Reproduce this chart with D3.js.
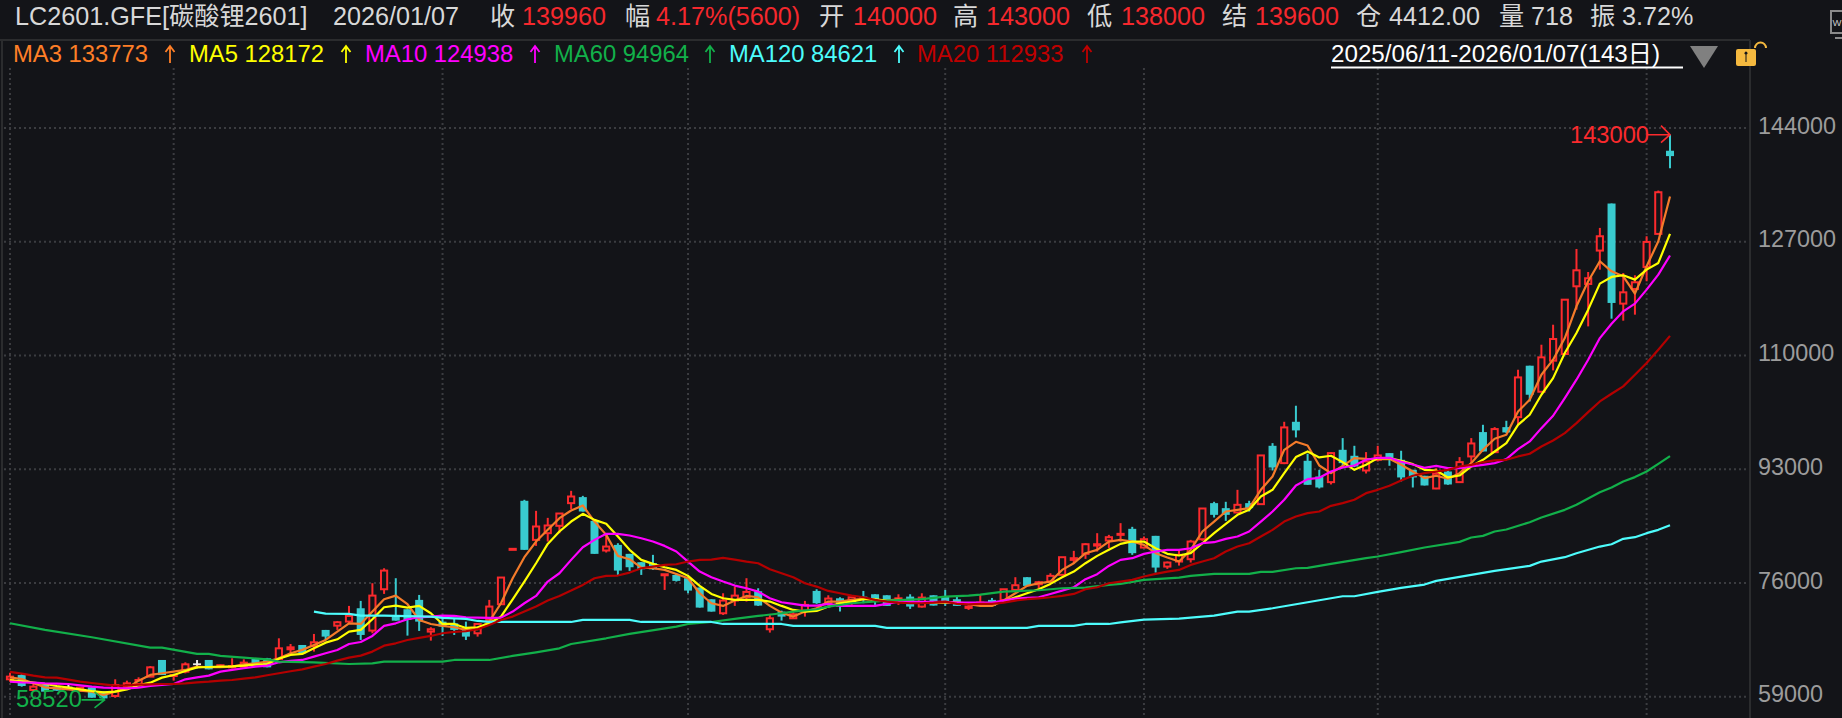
<!DOCTYPE html>
<html><head><meta charset="utf-8">
<script src="https://cdn.jsdelivr.net/npm/d3@7/dist/d3.min.js"></script>
<style>
html,body{margin:0;padding:0;background:#131418;overflow:hidden}
svg{display:block}
text{font-family:"Liberation Sans","Noto Sans CJK SC",sans-serif}
</style></head><body><svg id="c" width="1842" height="718"></svg>
<script>
const opens=[61600,62240,60000,60750,60500,60500,59900,60400,59750,59100,60500,60900,62000,64490,62100,62740,63990,64490,63500,63390,63490,64740,64740,64640,66090,66730,66580,68980,69620,70230,72220,68880,75060,70970,72070,73470,68730,70220,69970,69230,68480,70470,72820,81000,88280,82440,83440,84540,87930,88830,85280,80850,81690,80350,79100,78950,77200,77200,76710,75310,73560,71470,73370,73860,74760,69080,71720,70720,71870,74810,72970,73710,73220,73960,74310,74160,73220,73960,72470,74160,73960,73570,72270,72870,73470,73470,74960,76860,75810,76210,77210,79450,80350,81590,82340,83190,84090,81290,83040,78450,79200,79550,82540,87930,87180,86530,87930,87780,96500,93910,100090,94260,91920,91070,95900,95010,92810,94410,95410,94410,92910,92020,90120,92660,91070,94910,98550,95550,99290,100790,108470,104580,109220,110220,120340,120690,125680,132710,117750,119940,123230,128170,140600];
const highs=[62590,62400,60900,60800,60600,60750,60350,60400,59800,61600,61400,61900,63590,64490,62240,64140,64490,64490,63800,64740,64590,64740,64800,67730,66880,66730,68380,68980,70320,72570,73320,75960,78200,76710,72070,74210,69380,70720,70720,70220,69880,73470,76810,81100,88430,86780,85730,86380,89770,89020,85280,83440,81940,80350,79100,80200,77300,77450,76960,75310,73560,74460,75460,76710,75210,71370,71870,71720,73320,75060,74160,73860,73860,74810,74310,74160,74310,74310,74460,74160,74960,73960,72670,74210,73760,75060,76860,76860,76310,77450,79850,80800,81940,83440,83190,84940,84390,82940,83040,79200,80940,82440,87130,88130,88130,89920,88280,95060,96900,100090,102490,95310,92910,95560,97650,96500,95560,96500,95410,95760,92910,92020,93160,92910,94810,97650,99640,99290,100240,107870,108470,111610,114600,118340,125920,122480,129070,132710,122330,121990,127820,134650,143000];
const lows=[61250,60500,60000,59700,59900,60250,59900,58850,58520,58850,60250,60750,62000,62240,61400,62490,63240,63090,63400,63240,63490,63990,63390,64490,65490,65490,65740,67480,68980,69980,67480,68480,74360,70370,68130,68830,67380,68080,68230,67480,67980,70220,72820,81000,80950,81540,82190,83440,87030,86680,80350,80550,77200,77800,77200,77950,74960,76210,74460,72320,71720,71220,72570,73220,72570,68580,70370,70720,70970,72870,72720,71720,72720,72970,72720,72570,72720,72120,72320,72620,72570,72570,71970,72720,72570,73370,74860,75560,75210,75960,77210,78950,79600,80700,81200,82190,80200,81290,77550,78100,78600,79050,82290,85780,85280,86430,86680,87780,92810,93760,97750,90670,90120,90720,93160,93310,92360,94160,93510,91170,90270,90570,90020,90670,91070,93910,95650,95550,98400,99640,103130,104580,107770,110220,116850,114350,122830,115500,115200,116100,121090,128170,138000];
const closes=[62000,60600,60500,59750,59900,60500,60350,58850,58750,60750,61000,61500,63390,62240,62240,63840,63990,63090,63700,63590,64090,63990,63390,66230,66380,65490,67130,67980,70130,71070,68230,74110,77850,70370,70470,70220,69080,69480,68980,67980,69870,72470,76810,81100,80950,84440,84590,86380,88920,86680,80350,81440,77850,78350,78050,78050,77300,76310,74860,72320,71720,73370,74110,74660,72620,70720,70970,71320,72720,72970,73670,72470,73860,73860,73220,72570,73710,72470,73810,72620,73220,72570,72470,73070,72570,75060,75660,75560,76110,77060,79850,79700,81790,81790,82840,83340,80450,82540,78300,79050,80200,82190,87130,86180,86180,87680,87180,95060,93260,99250,98800,90670,90270,95410,93910,93410,94160,95060,94410,91770,91770,90570,92320,90720,94060,96850,95650,99000,98500,106720,104130,109720,112460,118340,122730,121540,127820,117850,119440,120940,126970,134400,139800];

const ma3=[61900,61650,61000,60400,60250,60100,59900,59750,59250,59750,60250,61400,62250,62500,62750,63000,63500,63400,63400,63500,63850,64000,64250,64750,65500,66000,66730,67480,68730,69970,69870,71720,73560,74110,72820,70470,69870,69580,69380,68980,69080,70220,72970,76710,79850,82190,83940,85680,86830,87580,85180,83190,80050,79550,78300,78200,77950,77350,76710,74460,72970,72570,73370,74060,73860,72570,71570,70970,71720,72220,73220,73220,73470,73610,73470,73370,73570,73220,73070,73070,73070,73070,72820,72570,72570,73370,74460,75560,75960,76210,77950,78950,80450,80950,82190,82440,82190,81690,80450,79800,79200,80940,83690,85180,86680,86930,87180,89920,91920,95900,97100,96550,93560,92410,93510,94660,94560,94510,94560,93660,92660,91670,92020,91570,92410,93910,95900,97550,98150,101640,103380,107120,109370,112610,117350,121090,124080,122580,121840,119240,123330,127070,133770];
const ma5=[61500,61300,61100,60900,60600,60350,60100,59850,59650,59750,60100,60700,61100,61850,62250,62840,63390,63440,63490,63540,63640,63790,63890,64690,65240,65390,66230,67080,67580,68730,68980,70570,72370,72620,72320,72570,71470,69870,69870,69280,69380,69970,70970,73560,76210,78950,81840,83690,85180,86330,85430,84840,82940,80950,79450,78850,78350,77950,77060,75560,74360,73710,73470,73470,73470,73220,72570,71970,71720,71820,72470,72970,73220,73570,73570,73370,73220,73120,73120,73120,73120,73070,72970,72870,72870,73220,73860,74460,75060,75860,76860,77700,78950,80050,80950,81840,82190,82190,81190,80350,80100,80450,81940,83440,84830,86180,86930,88920,89920,92410,94810,95660,94760,95010,94060,92910,93660,94660,94660,94260,93760,92910,92810,91770,92060,93410,94410,95650,96900,99640,101140,104130,106620,110370,113360,116850,120740,121740,121990,121340,122830,123830,128170];
const ma10=[61250,61150,61100,61000,60950,60900,60700,60500,60350,60300,60250,60350,60600,60750,60900,61600,61900,62150,62750,63000,63250,63500,63640,64140,64350,64490,64990,65490,65990,66880,67180,68080,69580,69970,70570,70870,70970,71120,71070,70870,70820,70770,70820,71720,72970,74060,76210,77450,79450,81340,82440,83340,83340,83090,82690,82190,81540,80700,79200,77700,76860,76210,75610,75210,74710,73710,73120,72870,72620,72620,72870,72570,72570,72570,72570,72870,73220,73170,73170,73170,73170,73070,73070,73070,73070,73370,73660,73760,73860,74360,74860,75360,76560,77310,78550,79450,79700,80350,80700,80940,80940,81190,81940,82090,82590,82940,83690,85180,86680,88430,90570,91520,91720,92660,93260,93560,94410,94710,94710,94110,93710,93210,93510,93160,93160,93410,93660,93910,94510,96000,97150,99140,100990,103630,106380,109370,112600,114750,116600,117750,119840,122080,124940];
const ma20=[62700,62450,62150,61900,61850,61550,61250,61050,60850,60650,60700,60800,60850,60900,60900,61000,61150,61250,61400,61500,61700,61900,62200,62500,62800,63090,63490,63890,64390,64840,65140,65740,66630,66980,67480,67780,68080,68480,68680,68780,69080,69730,70470,70970,71720,72470,73370,74060,74860,75710,76710,77060,77110,77550,78200,78450,78700,78800,79200,79450,79500,79750,79500,79200,78950,78050,77450,76860,75960,75460,74810,74460,74110,73860,73470,73220,73070,72970,72970,73070,73220,72870,72820,72870,72870,73070,73370,73570,73710,73860,74060,74360,75060,75360,75960,76210,76460,76960,77350,77700,77950,78700,79200,79700,80700,81440,81940,82940,83940,85180,85930,86430,86680,87530,87930,88430,89420,89920,90520,91320,92020,92410,92660,92910,93410,93660,94060,94310,94410,94910,95310,96400,97300,98400,99890,101540,103130,104280,105380,107120,108870,110860,112930];
const ma60Idx=[0,3,7,12,13,16,17,18,20,22,23,26,29,31,32,37,38,41,43,45,47,48,51,53,57,58,60,62,64,66,67,69,70,72,75,78,80,82,83,85,88,90,92,94,95,97,100,101,103,106,107,108,110,111,113,116,117,119,121,124,125,126,127,128,130,131,133,134,136,137,138,139,140,141,142];
const ma60Val=[69980,68980,67880,66340,66340,65390,65390,65090,64840,64590,64240,64140,63890,63990,64240,64240,64490,64490,65090,65630,66230,66880,67730,68380,69480,69870,70170,70620,71070,71470,71720,72070,72470,72970,73370,73570,73960,74110,74260,74710,74910,75210,75310,75710,75860,76460,76810,77060,77350,77350,77650,77650,78200,78250,78850,79700,79950,80600,81300,82140,82790,83040,83690,83990,85080,85780,86930,87680,89570,90270,91170,91820,92660,93810,94960];
const ma120Idx=[26,27,29,30,32,36,37,39,40,41,48,49,53,54,60,61,66,67,74,75,87,88,91,92,94,95,97,100,101,103,105,106,108,110,112,114,115,117,119,121,122,127,130,131,133,134,136,137,138,139,140,141,142];
const ma120Val=[71720,71420,71370,71120,71120,70970,70770,70620,70320,70170,70170,70470,70470,70170,70170,69870,69870,69580,69580,69280,69280,69580,69580,69870,69870,70120,70520,70670,70820,71120,71720,71720,72220,72820,73420,74010,74010,74660,75260,75760,76310,77800,78550,79200,79850,80450,81440,81790,82590,82840,83440,83940,84620];
const priceTicks=[144000,127000,110000,93000,76000,59000];
const gridIdx=[0,14,37,58,80,97,117,140];
const headerItems=[["LC2601.GFE[碳酸锂2601]",15,"#d8d8d8"],["2026/01/07",333,"#d8d8d8"],["收",490,"#d8d8d8"],["139960",522,"#f5282d"],["幅",625,"#d8d8d8"],["4.17%(5600)",656,"#f5282d"],["开",819,"#d8d8d8"],["140000",853,"#f5282d"],["高",953,"#d8d8d8"],["143000",986,"#f5282d"],["低",1087,"#d8d8d8"],["138000",1121,"#f5282d"],["结",1222,"#d8d8d8"],["139600",1255,"#f5282d"],["仓",1356,"#d8d8d8"],["4412.00",1389,"#d8d8d8"],["量",1499,"#d8d8d8"],["718",1531,"#d8d8d8"],["振",1590,"#d8d8d8"],["3.72%",1622,"#d8d8d8"]];
const legendItems=[["MA3 133773",13,170,"#ff7f27"],["MA5 128172",189,346,"#ffff00"],["MA10 124938",365,535,"#ff00ff"],["MA60 94964",554,710,"#12b04a"],["MA120 84621",729,899,"#4dfcfc"],["MA20 112933",917,1087,"#c00000"]];
const rangeLabel="2025/06/11-2026/01/07(143日)";

const RED="#fb2a2d",TEAL="#39cbcf",BG="#131418",GRID="#3b3c40",LINE="#2b2c2e";
const x=d3.scaleLinear().domain([0,142]).range([10,1670]);
const y=d3.scaleLinear().domain([59000,144000]).range([696.7,128]);
const svg=d3.select("#c");
svg.append("rect").attr("width",1842).attr("height",718).attr("fill",BG);

// frame
svg.append("line").attr("x1",0).attr("x2",1750).attr("y1",40).attr("y2",40).attr("stroke",LINE).attr("stroke-width",2);
svg.append("line").attr("x1",2).attr("x2",2).attr("y1",40).attr("y2",718).attr("stroke",LINE).attr("stroke-width",2);
svg.append("line").attr("x1",1750).attr("x2",1750).attr("y1",40).attr("y2",718).attr("stroke",LINE).attr("stroke-width",2);

// grid
const grid=svg.append("g").attr("stroke",GRID).attr("stroke-width",2).attr("stroke-dasharray","2 3");
grid.selectAll(".h").data(priceTicks).join("line").attr("x1",4).attr("x2",1748).attr("y1",d=>y(d)).attr("y2",d=>y(d));
grid.selectAll(".v").data(gridIdx).join("line").attr("x1",d=>x(d)).attr("x2",d=>x(d)).attr("y1",68).attr("y2",718);

// axis
const ax=svg.append("g").attr("transform","translate(1751,0)").call(d3.axisRight(y).tickValues(priceTicks).tickSize(0).tickPadding(7).tickFormat(d3.format("d")));
ax.select(".domain").remove();
ax.selectAll("text").attr("fill","#9c9c9c").attr("font-size",23.4).attr("dy","0.22em").style("font-family",'"Liberation Sans",sans-serif');

// candles
const candles=d3.range(opens.length).map(i=>({i,o:opens[i],h:highs[i],l:lows[i],c:closes[i]}));
const col=d=>d.c>d.o?RED:d.c<d.o?TEAL:"#e8e8e8";
const cg=svg.append("g");
cg.selectAll(".w").data(candles).join("line").attr("x1",d=>x(d.i)).attr("x2",d=>x(d.i)).attr("y1",d=>y(d.h)).attr("y2",d=>y(d.l)).attr("stroke",col).attr("stroke-width",2);
cg.selectAll(".b").data(candles).join("rect")
 .attr("x",d=>x(d.i)-(d.c>d.o?3.1:4)).attr("width",d=>d.c>d.o?6.2:8)
 .attr("y",d=>y(Math.max(d.o,d.c))).attr("height",d=>Math.max(d.c>d.o?1:1.8,Math.abs(y(d.o)-y(d.c))))
 .attr("fill",d=>d.c>d.o?BG:col(d)).attr("stroke",d=>d.c>d.o?RED:"none").attr("stroke-width",2);

// moving averages
const line=d3.line().x(d=>x(d[0])).y(d=>y(d[1]));
const full=a=>a.map((v,i)=>[i,v]);
const zip=(a,b)=>a.map((v,i)=>[v,b[i]]);
[[full(ma3),"#f47b2a"],[full(ma5),"#ffff00"],[full(ma10),"#ff00ff"],[zip(ma60Idx,ma60Val),"#12b04a"],[zip(ma120Idx,ma120Val),"#4dfcfc"],[full(ma20),"#b40000"]]
 .forEach(([pts,c])=>svg.append("path").attr("d",line(pts)).attr("fill","none").attr("stroke",c).attr("stroke-width",2.2).attr("stroke-linejoin","round"));

// high / low annotation
const hiI=d3.greatestIndex(highs),loI=d3.leastIndex(lows);
const hy=y(highs[hiI]),hx=x(hiI);
svg.append("text").attr("x",1570).attr("y",hy+8).attr("fill",RED).attr("font-size",23.7).text(d3.format("d")(highs[hiI]));
svg.append("path").attr("d",`M${hx-23},${hy}H${hx}M${hx-9},${hy-9}L${hx},${hy}L${hx-9},${hy+8}`).attr("fill","none").attr("stroke",RED).attr("stroke-width",1.6);
const ly=y(lows[loI]),lx=x(loI)+1;
svg.append("text").attr("x",16).attr("y",ly+7).attr("fill","#12b04a").attr("font-size",23.7).text(d3.format("d")(lows[loI]));
svg.append("path").attr("d",`M${lx-23},${ly}H${lx}M${lx-10},${ly-8}L${lx},${ly}L${lx-10},${ly+8}`).attr("fill","none").attr("stroke","#12b04a").attr("stroke-width",1.6);

// header
svg.selectAll(".hd").data(headerItems).join("text").attr("x",d=>d[1]).attr("y",24.5).attr("fill",d=>d[2]).attr("font-size",25.2).text(d=>d[0]);
const lg=svg.selectAll(".lg").data(legendItems).join("g");
lg.append("text").attr("x",d=>d[1]).attr("y",62).attr("fill",d=>d[3]).attr("font-size",23.8).text(d=>d[0]);
lg.append("path").attr("d",d=>`M${d[2]},63V47M${d[2]-4.5},52L${d[2]},46L${d[2]+4.5},52`).attr("fill","none").attr("stroke",d=>d[3]).attr("stroke-width",1.8);

// date range + controls
svg.append("text").attr("x",1331).attr("y",62).attr("fill","#fff").attr("font-size",24.2).text(rangeLabel);
svg.append("rect").attr("x",1331).attr("y",66.5).attr("width",352).attr("height",2).attr("fill","#fff");
svg.append("path").attr("d","M1690,46H1718L1704,68Z").attr("fill","#808080");
svg.append("rect").attr("x",1736).attr("y",49).attr("width",20).attr("height",17).attr("rx",2).attr("fill","#f5b93f");
svg.append("path").attr("d","M1745.5,54.5a1.5,1.5 0 1 1 1,0V62h-1Z").attr("fill",BG);
svg.append("path").attr("d","M1755,48a5.5,5.5 0 0 1 11,0").attr("fill","none").attr("stroke","#f5b93f").attr("stroke-width",2);
svg.append("rect").attr("x",1831).attr("y",11).attr("width",14).attr("height",22).attr("fill","none").attr("stroke","#8a8a8a").attr("stroke-width",2);
svg.append("rect").attr("x",1835).attr("y",37).attr("width",7).attr("height",2).attr("fill","#8a8a8a");
svg.append("text").attr("x",1832.5).attr("y",26).attr("fill","#c8c8c8").attr("font-size",9.5).text("W");
</script></body></html>
